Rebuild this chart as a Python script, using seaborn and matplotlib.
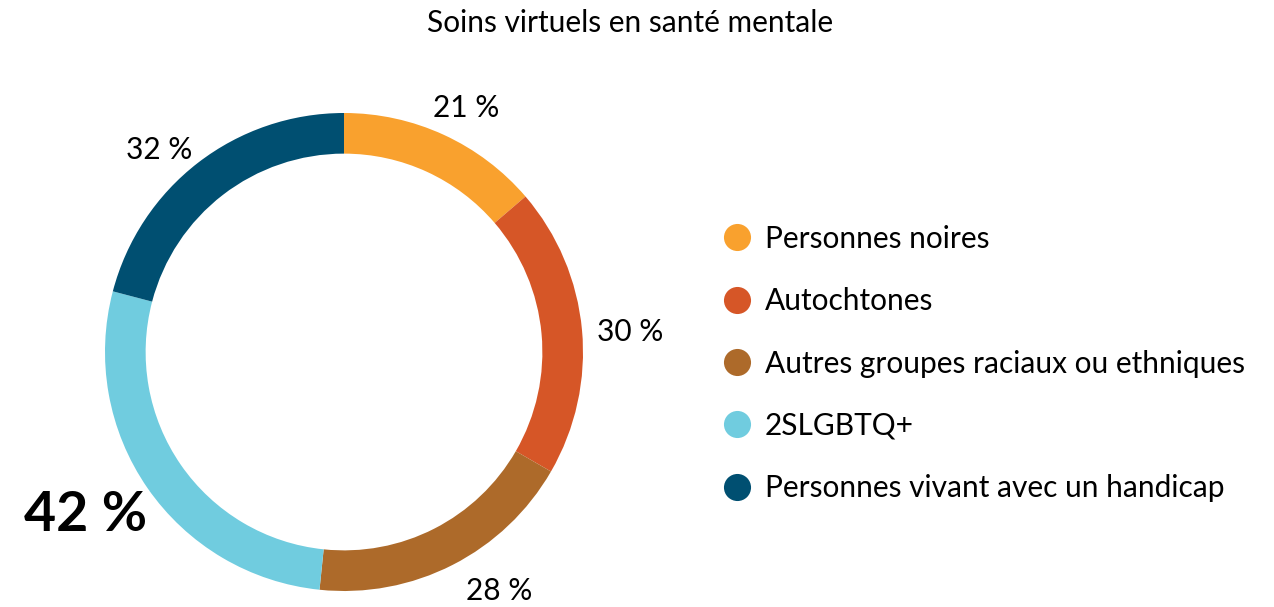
import numpy as np
import matplotlib
matplotlib.use('Agg')
import matplotlib.pyplot as plt
from matplotlib.lines import Line2D
import seaborn as sns

# ===============================
# Données
# ===============================
groupes = ['Personnes noires', 'Autochtones', 'Autres groupes raciaux ou ethniques',
           '2SLGBTQ+', 'Personnes vivant avec un handicap']
valeurs = [21, 30, 28, 42, 32]
etiquettes = ['21 %', '30 %', '28 %', '42 %', '32 %']
couleurs = ['#F9A12E', '#D65627', '#AD6A2A', '#70CCDF', '#004F71']
titre = 'Soins virtuels en santé mentale'
plus_grand = int(np.argmax(valeurs))

# ===============================
# Style
# ===============================
sns.set_theme(style='white')
plt.rcParams['font.family'] = ['Lato', 'DejaVu Sans']
palette = sns.color_palette(couleurs)

W, H = 1274, 607
fig = plt.figure(figsize=(W / 100, H / 100), dpi=100)

# axe du beigne : centre (344, 352) px, rayon 239 px
cx, cy, R = 344, 352, 239
demi = 1.2 * R
ax = fig.add_axes([(cx - demi) / W, (H - cy - demi) / H, 2 * demi / W, 2 * demi / H])

wedges, _ = ax.pie(valeurs, colors=palette, startangle=90, counterclock=False,
                   radius=1.0, wedgeprops=dict(width=0.17, edgecolor='none'))
ax.set_xlim(-1.2, 1.2)
ax.set_ylim(-1.2, 1.2)
ax.set_aspect('equal')
ax.axis('off')

# étiquettes des pourcentages (rayon, décalage angulaire en degrés, sens horaire)
rayons = [1.14, 1.20, 1.19, 1.28, 1.146]
decal_ang = [1.9, 1.3, -5.9, 2.4, -4.9]
for i, w in enumerate(wedges):
    ang = np.deg2rad((w.theta1 + w.theta2) / 2 - decal_ang[i])
    x, y = rayons[i] * np.cos(ang), rayons[i] * np.sin(ang)
    if i == plus_grand:
        ax.text(x, y, etiquettes[i], ha='center', va='center', fontsize=40,
                fontweight='bold', color='black')
    else:
        ax.text(x, y, etiquettes[i], ha='center', va='center', fontsize=21.5,
                color='black')

# titre
fig.text(630 / W, 1 - 23 / H, titre, ha='center', va='center', fontsize=21.5, color='black')

# légende
poignees = [Line2D([0], [0], marker='o', linestyle='none', markersize=19.5,
                   markerfacecolor=c, markeredgecolor='none') for c in palette]
fig.legend(poignees, groupes, loc='center left', bbox_to_anchor=(723 / W, 1 - 363.5 / H),
           frameon=False, fontsize=21.5, labelcolor='black', handlelength=0.93,
           handletextpad=0.47, labelspacing=1.15, borderpad=0, borderaxespad=0)

fig.savefig('out.png', dpi=100, facecolor='white')
